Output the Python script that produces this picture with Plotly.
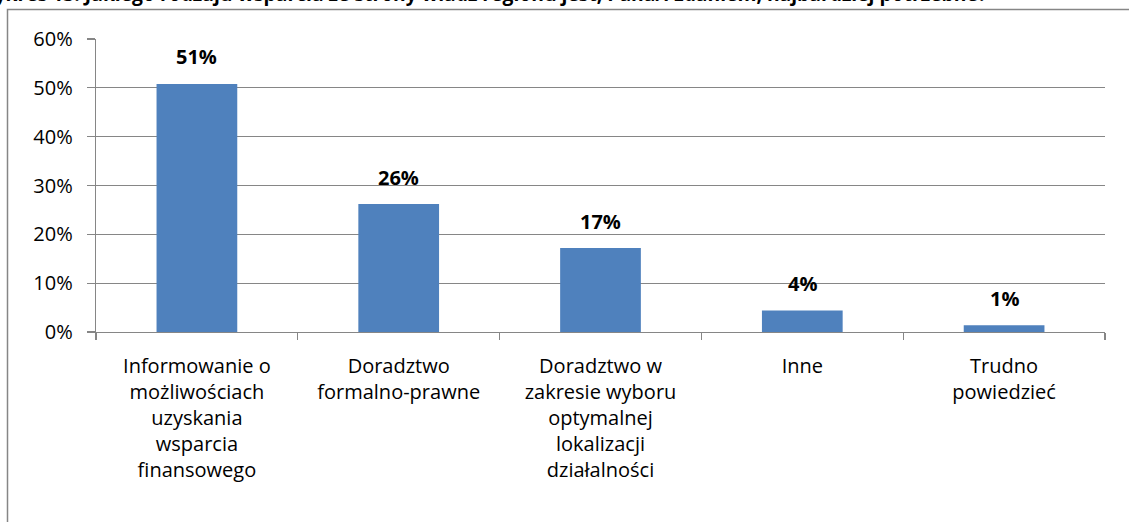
import plotly.graph_objects as go

categories = [
    "Informowanie o<br>możliwościach<br>uzyskania<br>wsparcia<br>finansowego",
    "Doradztwo<br>formalno-prawne",
    "Doradztwo w<br>zakresie wyboru<br>optymalnej<br>lokalizacji<br>działalności",
    "Inne",
    "Trudno<br>powiedzieć",
]
values = [0.508, 0.262, 0.172, 0.044, 0.014]
labels = ["51%", "26%", "17%", "4%", "1%"]
y_ticks = [0, 0.1, 0.2, 0.3, 0.4, 0.5, 0.6]
title_text = ("Wykres 13. Jakiego rodzaju wsparcia ze strony władz regionu jest, "
              "Pana/i zdaniem, najbardziej potrzebne?")

W, H = 1129, 522
L, R, T, B = 96, 24, 39, 190
pw, ph = W - L - R, H - T - B
grid = "#868686"
font_family = "Open Sans, DejaVu Sans, sans-serif"

fig = go.Figure()
fig.add_trace(go.Bar(
    x=categories, y=values,
    marker=dict(color="#4F81BD", line=dict(width=0)),
    width=0.4, hoverinfo="skip",
))

for c, v, t in zip(categories, values, labels):
    fig.add_annotation(x=c, y=v, text="<b>%s</b>" % t, showarrow=False,
                       yshift=27, yanchor="middle",
                       font=dict(family=font_family, size=20, color="#000000"))

# title (clipped at top in reference)
fig.add_annotation(xref="paper", yref="paper",
                   x=(989 - L) / pw, y=1 + (T - 9) / ph,
                   xanchor="right", yanchor="bottom", showarrow=False,
                   text="<b>%s</b>" % title_text,
                   font=dict(family=font_family, size=19.3, color="#000000"))

# outer chart frame
fig.add_shape(type="rect", xref="paper", yref="paper",
              x0=(7.5 - L) / pw, x1=(W + 20 - L) / pw,
              y0=-(B + 20) / ph, y1=1 + (T - 9.5) / ph,
              line=dict(color="#868686", width=1.5), fillcolor="rgba(0,0,0,0)",
              layer="above")

fig.update_layout(
    width=W, height=H,
    margin=dict(l=L, r=R, t=T, b=B, pad=0, autoexpand=False),
    paper_bgcolor="white", plot_bgcolor="white",
    showlegend=False,
    font=dict(family=font_family, color="#000000"),
    xaxis=dict(
        type="category", showgrid=False,
        showline=True, linecolor=grid, linewidth=1.3,
        ticks="outside", tickson="boundaries", ticklen=7, tickcolor=grid, tickwidth=1.3,
        tickfont=dict(family=font_family, size=20, color="#000000"),
        ticklabelstandoff=16,
        range=[-0.5, 4.5],
    ),
    yaxis=dict(
        range=[0, 0.6], tickvals=y_ticks, tickformat=".0%",
        showgrid=True, gridcolor=grid, gridwidth=1.3,
        showline=True, linecolor=grid, linewidth=1.3,
        ticks="outside", ticklen=8, tickcolor=grid, tickwidth=1.3,
        tickfont=dict(family=font_family, size=20, color="#000000"),
        ticklabelstandoff=10,
        zeroline=False,
    ),
)

fig.write_html("out.html",
               config={"displayModeBar": False, "staticPlot": True},
               post_script="document.body.style.margin='0';document.body.style.overflow='hidden';")
